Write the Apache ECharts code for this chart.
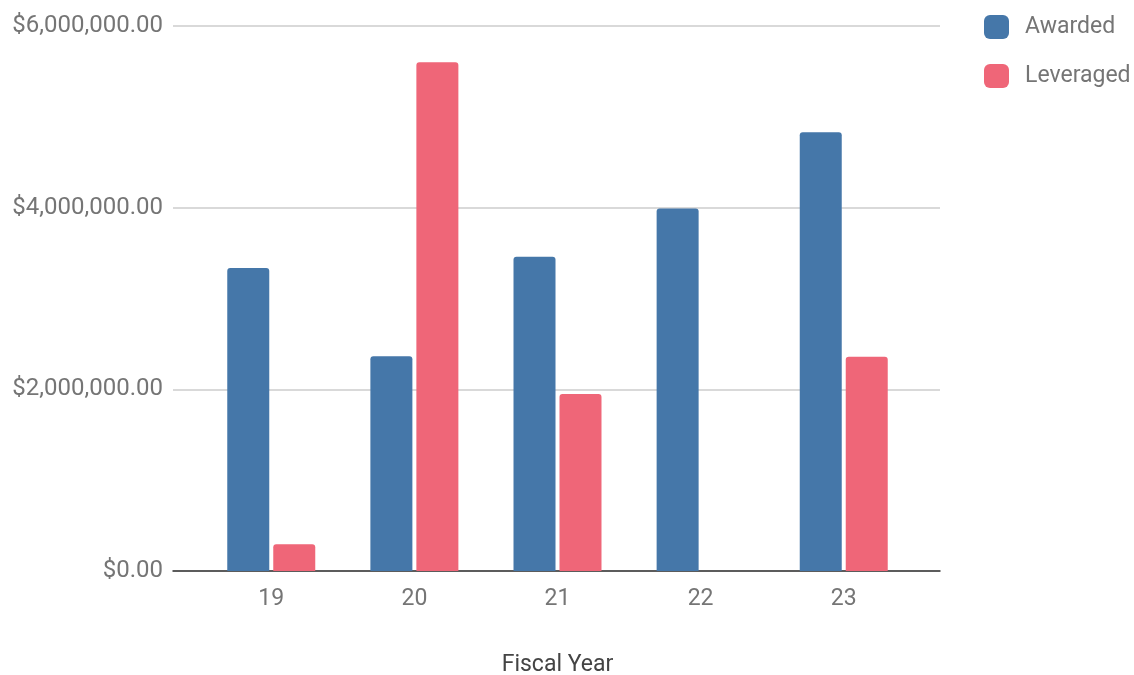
<!DOCTYPE html>
<html>
<head>
<meta charset="utf-8">
<script src="https://cdn.jsdelivr.net/npm/echarts@6/dist/echarts.min.js"></script>
<style>html,body{margin:0;padding:0;background:#fff;}#c{width:1134px;height:675px;}</style>
</head>
<body>
<div id="c"></div>
<script>
const categories = ['19', '20', '21', '22', '23'];
const awarded = [3335000, 2365000, 3460000, 3990000, 4830000];
const leveraged = [294000, 5600000, 1950000, 0, 2360000];
const seriesNames = ['Awarded', 'Leveraged'];
const axisTitle = 'Fiscal Year';

const chart = echarts.init(document.getElementById('c'));
const fmt = v => '$' + Number(v).toLocaleString('en-US', {minimumFractionDigits: 2, maximumFractionDigits: 2});
const font = 'Roboto';
chart.setOption({
  animation: false,
  textStyle: {fontFamily: font},
  grid: [
    {left: 173, right: 194, top: 26, bottom: 104, containLabel: false, outerBoundsMode: 'none'},
    {left: 199.7, right: 218.7, top: 26, bottom: 104, containLabel: false, outerBoundsMode: 'none'}
  ],
  legend: {
    orient: 'vertical', left: 984, top: 15, padding: 0,
    itemWidth: 25, itemHeight: 24, itemGap: 25, icon: 'roundRect',
    textStyle: {fontSize: 23, color: '#757575', fontFamily: font, padding: [6, 0, 0, 11]},
    data: seriesNames
  },
  xAxis: [
    {gridIndex: 0, type: 'category', data: categories, axisLine: {lineStyle: {color: '#333', width: 1.5}},
     axisTick: {show: false}, axisLabel: {show: false}},
    {gridIndex: 1, type: 'category', data: categories, axisLine: {show: false}, axisTick: {show: false},
     axisLabel: {color: '#757575', fontSize: 23, margin: 17, fontFamily: font},
     name: axisTitle, nameLocation: 'middle', nameGap: 83,
     nameTextStyle: {color: '#444', fontSize: 23, fontFamily: font}}
  ],
  yAxis: [
    {gridIndex: 0, type: 'value', min: 0, max: 6000000, interval: 2000000,
     axisLine: {show: false}, axisTick: {show: false},
     axisLabel: {formatter: fmt, color: '#757575', fontSize: 24, margin: 10, fontFamily: font},
     splitLine: {lineStyle: {color: '#cccccc', width: 1.5}}},
    {gridIndex: 1, type: 'value', min: 0, max: 6000000, interval: 2000000, show: false, splitLine: {show: false}}
  ],
  series: [
    {name: seriesNames[0], type: 'bar', xAxisIndex: 1, yAxisIndex: 1, data: awarded,
     barWidth: 42, barGap: '9.5%', itemStyle: {color: '#4577a9', borderRadius: [3, 3, 0, 0]}},
    {name: seriesNames[1], type: 'bar', xAxisIndex: 1, yAxisIndex: 1, data: leveraged,
     barWidth: 42, barGap: '9.5%', itemStyle: {color: '#ef6678', borderRadius: [3, 3, 0, 0]}}
  ]
});
</script>
</body>
</html>
